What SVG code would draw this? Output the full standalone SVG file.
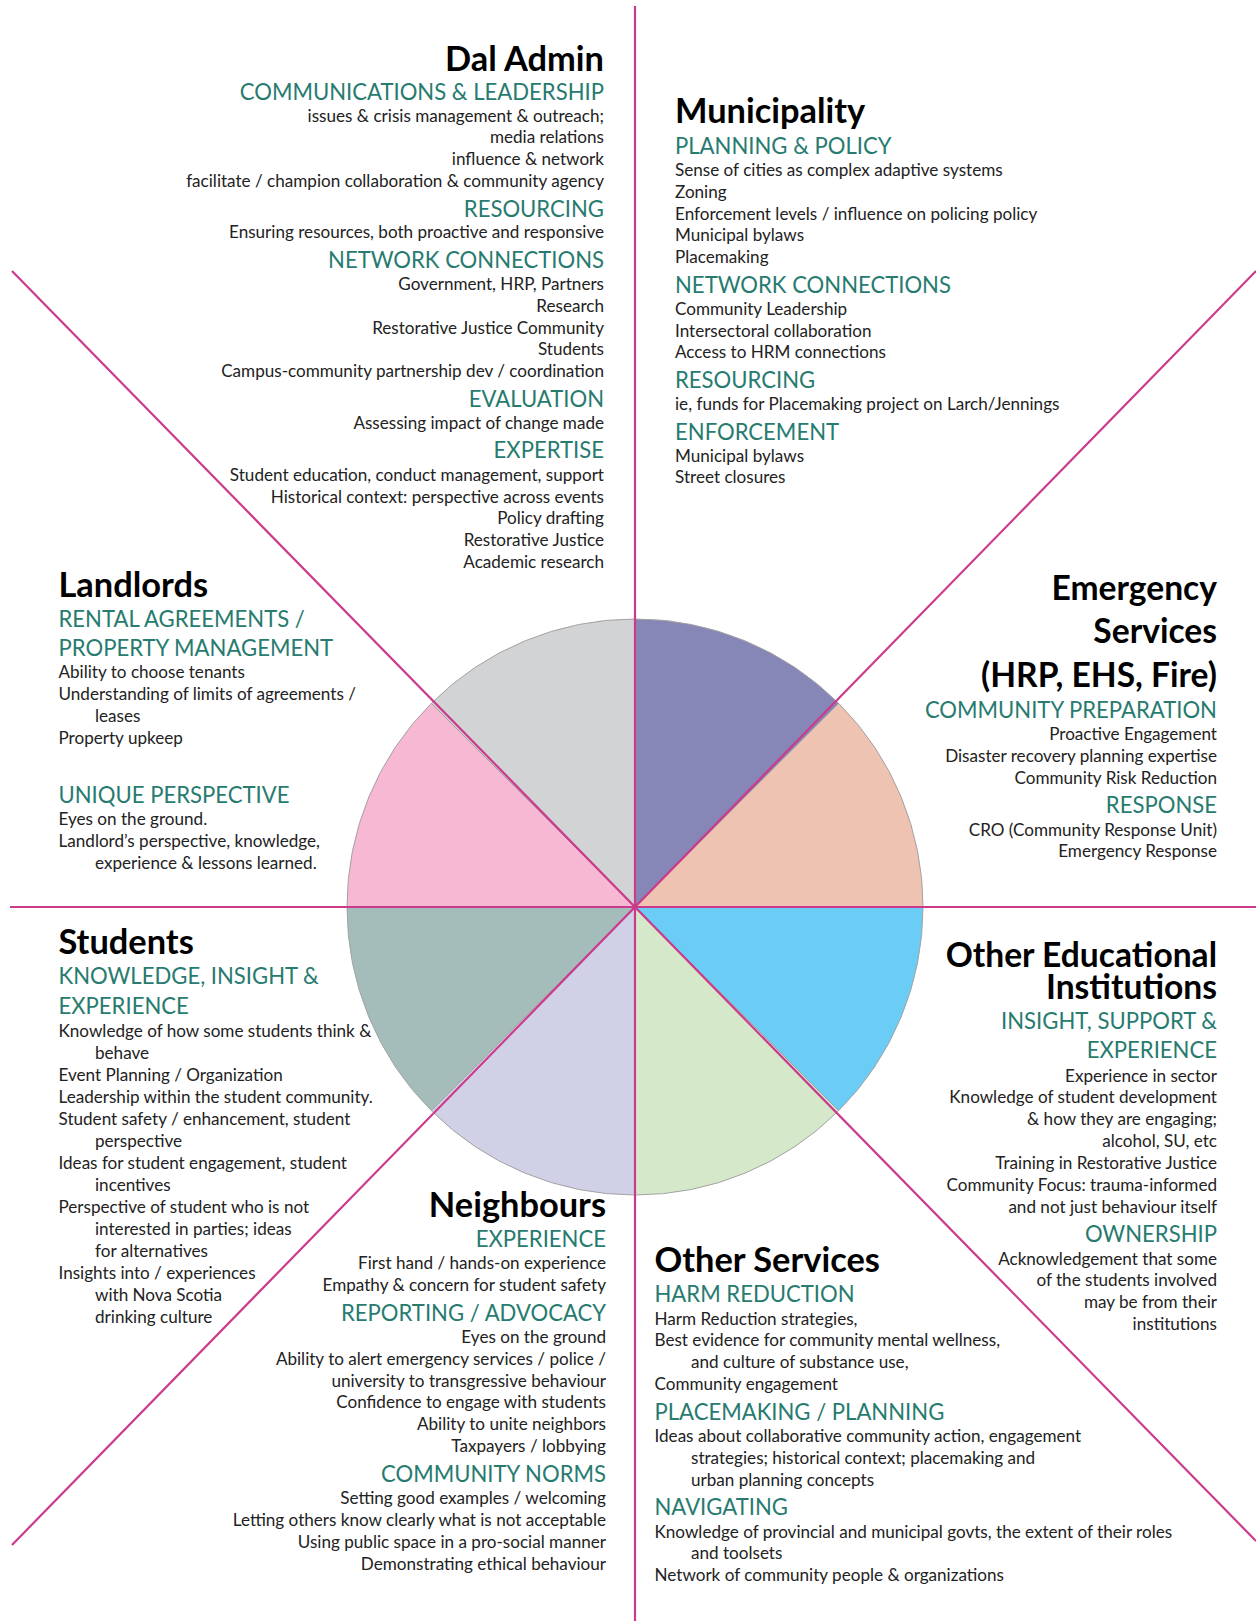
<svg xmlns="http://www.w3.org/2000/svg" width="1256" height="1621" viewBox="0 0 1256 1621">
<style>
text{font-family:Lato,"Open Sans","Liberation Sans",sans-serif}
.t{font-size:34.4px;font-weight:700;fill:#000}
.t2{font-size:33.6px}
.h{font-size:22.1px;fill:#277B6F}
.b{font-size:17.1px;fill:#222}
.e{text-anchor:end}
.slice{stroke:#A3A3A3;stroke-width:1}
.div{stroke:#CC3A8C;stroke-width:2.2;fill:none}
</style>
<rect width="1256" height="1621" fill="#fff"/>
<g id="wheel">
<path class="slice" fill="#8787B7" d="M635,907 L635,619 A288,288 0 0 1 838.65,703.35 Z"/>
<path class="slice" fill="#EEC3B2" d="M635,907 L838.65,703.35 A288,288 0 0 1 923,907 Z"/>
<path class="slice" fill="#6BCDF5" d="M635,907 L923,907 A288,288 0 0 1 838.65,1110.65 Z"/>
<path class="slice" fill="#D5E8CA" d="M635,907 L838.65,1110.65 A288,288 0 0 1 635,1195 Z"/>
<path class="slice" fill="#D0D1E6" d="M635,907 L635,1195 A288,288 0 0 1 431.35,1110.65 Z"/>
<path class="slice" fill="#A5BDBA" d="M635,907 L431.35,1110.65 A288,288 0 0 1 347,907 Z"/>
<path class="slice" fill="#F6B8D3" d="M635,907 L347,907 A288,288 0 0 1 431.35,703.35 Z"/>
<path class="slice" fill="#D2D3D5" d="M635,907 L431.35,703.35 A288,288 0 0 1 635,619 Z"/>
</g>
<g id="connectors">
<line class="div" x1="635" y1="6" x2="635" y2="1621"/>
<line class="div" x1="10" y1="907" x2="1256" y2="907"/>
<line class="div" x1="12" y1="271" x2="1256" y2="1541"/>
<line class="div" x1="1256" y1="271" x2="12" y2="1545"/>
</g>
<g id="dal-admin">
<text class="t e" x="604" y="70.5">Dal Admin</text>
<text class="h e" x="604" y="99.8">COMMUNICATIONS &amp; LEADERSHIP</text>
<text class="b e" x="604" y="121.5">issues &amp; crisis management &amp; outreach;</text>
<text class="b e" x="604" y="143.3">media relations</text>
<text class="b e" x="604" y="165">influence &amp; network</text>
<text class="b e" x="604" y="186.8">facilitate / champion collaboration &amp; community agency</text>
<text class="h e" x="604" y="216.5">RESOURCING</text>
<text class="b e" x="604" y="238.3">Ensuring resources, both proactive and responsive</text>
<text class="h e" x="604" y="267.8">NETWORK CONNECTIONS</text>
<text class="b e" x="604" y="290">Government, HRP, Partners</text>
<text class="b e" x="604" y="311.8">Research</text>
<text class="b e" x="604" y="333.5">Restorative Justice Community</text>
<text class="b e" x="604" y="355.3">Students</text>
<text class="b e" x="604" y="377">Campus-community partnership dev / coordination</text>
<text class="h e" x="604" y="407">EVALUATION</text>
<text class="b e" x="604" y="429">Assessing impact of change made</text>
<text class="h e" x="604" y="458">EXPERTISE</text>
<text class="b e" x="604" y="480.7">Student education, conduct management, support</text>
<text class="b e" x="604" y="502.5">Historical context: perspective across events</text>
<text class="b e" x="604" y="524.3">Policy drafting</text>
<text class="b e" x="604" y="546">Restorative Justice</text>
<text class="b e" x="604" y="567.8">Academic research</text>
</g>
<g id="municipality">
<text class="t" x="675" y="123">Municipality</text>
<text class="h" x="675" y="153.5">PLANNING &amp; POLICY</text>
<text class="b" x="675" y="176">Sense of cities as complex adaptive systems</text>
<text class="b" x="675" y="197.8">Zoning</text>
<text class="b" x="675" y="219.5">Enforcement levels / influence on policing policy</text>
<text class="b" x="675" y="241.3">Municipal bylaws</text>
<text class="b" x="675" y="263">Placemaking</text>
<text class="h" x="675" y="293">NETWORK CONNECTIONS</text>
<text class="b" x="675" y="314.8">Community Leadership</text>
<text class="b" x="675" y="336.5">Intersectoral collaboration</text>
<text class="b" x="675" y="358.3">Access to HRM connections</text>
<text class="h" x="675" y="388">RESOURCING</text>
<text class="b" x="675" y="410">ie, funds for Placemaking project on Larch/Jennings</text>
<text class="h" x="675" y="439.7">ENFORCEMENT</text>
<text class="b" x="675" y="461.5">Municipal bylaws</text>
<text class="b" x="675" y="483.3">Street closures</text>
</g>
<g id="landlords">
<text class="t" x="58.5" y="596.5">Landlords</text>
<text class="h" x="58.5" y="626.5">RENTAL AGREEMENTS /</text>
<text class="h" x="58.5" y="655.5">PROPERTY MANAGEMENT</text>
<text class="b" x="58.5" y="678">Ability to choose tenants</text>
<text class="b" x="58.5" y="700">Understanding of limits of agreements /</text>
<text class="b" x="95" y="721.7">leases</text>
<text class="b" x="58.5" y="743.5">Property upkeep</text>
<text class="h" x="58.5" y="802.5">UNIQUE PERSPECTIVE</text>
<text class="b" x="58.5" y="825">Eyes on the ground.</text>
<text class="b" x="58.5" y="847">Landlord’s perspective, knowledge,</text>
<text class="b" x="95" y="868.8">experience &amp; lessons learned.</text>
</g>
<g id="emergency-services">
<text class="t t2 e" x="1217" y="599.5">Emergency</text>
<text class="t t2 e" x="1217" y="643">Services</text>
<text class="t t2 e" x="1217" y="687">(HRP, EHS, Fire)</text>
<text class="h e" x="1217" y="717.5">COMMUNITY PREPARATION</text>
<text class="b e" x="1217" y="740">Proactive Engagement</text>
<text class="b e" x="1217" y="761.7">Disaster recovery planning expertise</text>
<text class="b e" x="1217" y="783.5">Community Risk Reduction</text>
<text class="h e" x="1217" y="813.3">RESPONSE</text>
<text class="b e" x="1217" y="835.5">CRO (Community Response Unit)</text>
<text class="b e" x="1217" y="857.3">Emergency Response</text>
</g>
<g id="students">
<text class="t" x="58.5" y="954.3">Students</text>
<text class="h" x="58.5" y="984.3">KNOWLEDGE, INSIGHT &amp;</text>
<text class="h" x="58.5" y="1013.5">EXPERIENCE</text>
<text class="b" x="58.5" y="1037.3">Knowledge of how some students think &amp;</text>
<text class="b" x="95" y="1059.2">behave</text>
<text class="b" x="58.5" y="1081.2">Event Planning / Organization</text>
<text class="b" x="58.5" y="1103.1">Leadership within the student community.</text>
<text class="b" x="58.5" y="1125.1">Student safety / enhancement, student</text>
<text class="b" x="95" y="1147">perspective</text>
<text class="b" x="58.5" y="1169">Ideas for student engagement, student</text>
<text class="b" x="95" y="1190.9">incentives</text>
<text class="b" x="58.5" y="1212.9">Perspective of student who is not</text>
<text class="b" x="95" y="1234.8">interested in parties; ideas</text>
<text class="b" x="95" y="1256.8">for alternatives</text>
<text class="b" x="58.5" y="1278.7">Insights into / experiences</text>
<text class="b" x="95" y="1300.7">with Nova Scotia</text>
<text class="b" x="95" y="1322.6">drinking culture</text>
</g>
<g id="other-educational-institutions">
<text class="t t2 e" x="1217" y="966.7">Other Educational</text>
<text class="t t2 e" x="1217" y="998.5">Institutions</text>
<text class="h e" x="1217" y="1029">INSIGHT, SUPPORT &amp;</text>
<text class="h e" x="1217" y="1058">EXPERIENCE</text>
<text class="b e" x="1217" y="1081.5">Experience in sector</text>
<text class="b e" x="1217" y="1103.3">Knowledge of student development</text>
<text class="b e" x="1217" y="1125.2">&amp; how they are engaging;</text>
<text class="b e" x="1217" y="1147.1">alcohol, SU, etc</text>
<text class="b e" x="1217" y="1169">Training in Restorative Justice</text>
<text class="b e" x="1217" y="1191">Community Focus: trauma-informed</text>
<text class="b e" x="1217" y="1213">and not just behaviour itself</text>
<text class="h e" x="1217" y="1242">OWNERSHIP</text>
<text class="b e" x="1217" y="1264.5">Acknowledgement that some</text>
<text class="b e" x="1217" y="1286.4">of the students involved</text>
<text class="b e" x="1217" y="1308.3">may be from their</text>
<text class="b e" x="1217" y="1330.2">institutions</text>
</g>
<g id="neighbours">
<text class="t e" x="606" y="1216.7">Neighbours</text>
<text class="h e" x="606" y="1246.5">EXPERIENCE</text>
<text class="b e" x="606" y="1269">First hand / hands-on experience</text>
<text class="b e" x="606" y="1291">Empathy &amp; concern for student safety</text>
<text class="h e" x="606" y="1320.5">REPORTING / ADVOCACY</text>
<text class="b e" x="606" y="1342.7">Eyes on the ground</text>
<text class="b e" x="606" y="1364.6">Ability to alert emergency services / police /</text>
<text class="b e" x="606" y="1386.5">university to transgressive behaviour</text>
<text class="b e" x="606" y="1408.4">Confidence to engage with students</text>
<text class="b e" x="606" y="1430.3">Ability to unite neighbors</text>
<text class="b e" x="606" y="1452.2">Taxpayers / lobbying</text>
<text class="h e" x="606" y="1481.7">COMMUNITY NORMS</text>
<text class="b e" x="606" y="1504.2">Setting good examples / welcoming</text>
<text class="b e" x="606" y="1526.1">Letting others know clearly what is not acceptable</text>
<text class="b e" x="606" y="1548">Using public space in a pro-social manner</text>
<text class="b e" x="606" y="1570">Demonstrating ethical behaviour</text>
</g>
<g id="other-services">
<text class="t" x="654.5" y="1271.7">Other Services</text>
<text class="h" x="654.5" y="1301.7">HARM REDUCTION</text>
<text class="b" x="654.5" y="1324.5">Harm Reduction strategies,</text>
<text class="b" x="654.5" y="1346.4">Best evidence for community mental wellness,</text>
<text class="b" x="691" y="1368.3">and culture of substance use,</text>
<text class="b" x="654.5" y="1390.2">Community engagement</text>
<text class="h" x="654.5" y="1419.5">PLACEMAKING / PLANNING</text>
<text class="b" x="654.5" y="1442">Ideas about collaborative community action, engagement</text>
<text class="b" x="691" y="1463.9">strategies; historical context; placemaking and</text>
<text class="b" x="691" y="1485.8">urban planning concepts</text>
<text class="h" x="654.5" y="1515">NAVIGATING</text>
<text class="b" x="654.5" y="1537.5">Knowledge of provincial and municipal govts, the extent of their roles</text>
<text class="b" x="691" y="1559.4">and toolsets</text>
<text class="b" x="654.5" y="1581.3">Network of community people &amp; organizations</text>
</g>
</svg>
